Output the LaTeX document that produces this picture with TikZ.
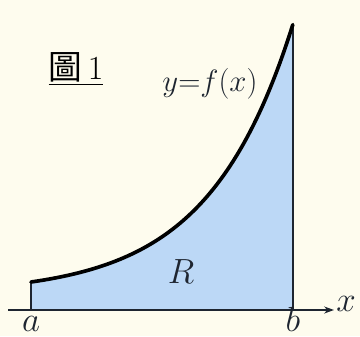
\documentclass[tikz,border=0pt]{standalone}
\usepackage{fontspec}
\usepackage{graphicx}
\newfontfamily\cjkfont{Noto Sans CJK TC}
\usetikzlibrary{calc,positioning,arrows.meta}
\definecolor{figcream}{HTML}{FEFCEE}
\definecolor{figblue}{HTML}{BCD8F6}
\definecolor{figdark}{HTML}{1E2530}

\tikzset{
  lbl/.style={font=\fontsize{25}{30}\selectfont, text=figdark, inner sep=0pt},
}

\begin{document}
\begin{tikzpicture}[x=0.025cm, y=-0.025cm]
  \fill[figcream] (0,0) rectangle (360,336);
  \clip (0,0) rectangle (360,336);
  \useasboundingbox (0,0) rectangle (360,336);
  % points on the axis
  \coordinate (A) at (31,310);
  \coordinate (B) at (293,310);
  \coordinate (O) at (8,310);
  \coordinate (E) at (334,310);
  % region under the curve
  \fill[figblue] (A) -- plot[domain=0:1, samples=80]
    ({31+262*\x},{282-258*(exp(3.1*\x)-1)/(exp(3.1)-1)}) -- (B) -- cycle;
  \draw[line width=1.6pt, figdark] (A) -- (31,282);
  \draw[line width=1.6pt, figdark] (B) -- (293,24);
  \draw[line width=1.4pt, figdark, -{Stealth[length=7pt,width=5pt]}] (O) -- (E);
  \draw[line width=2.6pt, line cap=round] plot[domain=0:1, samples=80]
    ({31+262*\x},{282-258*(exp(3.1*\x)-1)/(exp(3.1)-1)});
  % labels
  \node[lbl] (xlab) at (346,304) {$x$};
  \node[lbl, anchor=base] (alab) at (31,331) {$a$};
  \node[lbl, anchor=base] (blab) at (293,331) {$b$};
  \node[lbl] (rlab) at (181,272) {$R$};
  \node[lbl] (flab) at (210,84) {\scalebox{0.88}{$y{=}f(x)$}};
  \node[inner sep=0pt, font=\fontsize{24}{28}\selectfont] (title) at (76,69)
    {\underline{{\cjkfont 圖}\,1}};
\end{tikzpicture}
\end{document}
